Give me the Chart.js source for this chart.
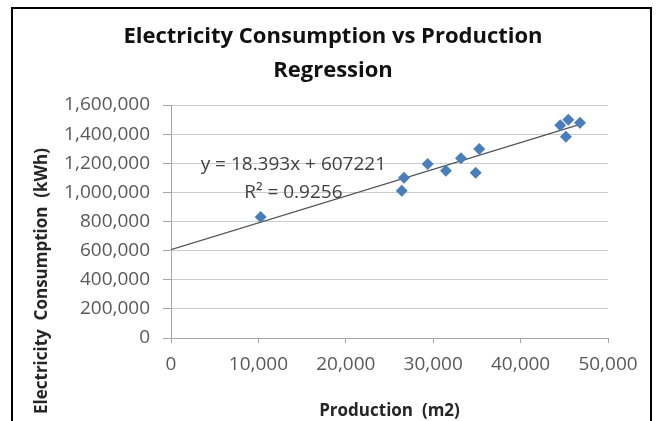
<!DOCTYPE html>
<html>
<head>
<meta charset="utf-8">
<script src="https://cdn.jsdelivr.net/npm/chart.js@4.4.0/dist/chart.umd.min.js"></script>
<style>
  html, body { margin: 0; padding: 0; background: #fff; overflow: hidden; }
  #wrap { position: absolute; left: 0; top: 0; width: 660px; height: 421px; }
</style>
</head>
<body>
<div id="wrap"><canvas id="myChart" width="660" height="421"></canvas></div>
<script>
// production (m2) vs electricity consumption (kWh)
const production = [10260, 26400, 26660, 29370, 31460, 33180, 34860, 35270, 44540, 45190, 45460, 46800];
const consumption = [831000, 1011000, 1101000, 1195000, 1149000, 1234000, 1135000, 1298000, 1461000, 1382000, 1499000, 1478000];

// trendline as shown on the chart
const slope = 18.393;
const intercept = 607221;
const rSquared = '0.9256';
const trendX = [0, 46800];

const xTicks = [0, 10000, 20000, 30000, 40000, 50000];
const yTicks = [0, 200000, 400000, 600000, 800000, 1000000, 1200000, 1400000, 1600000];

const points = production.map((x, i) => ({ x: x, y: consumption[i] }));
const trend = trendX.map(x => ({ x: x, y: slope * x + intercept }));

const FONT = "'Open Sans', sans-serif";

const extras = {
    id: 'extras',
    beforeDraw(chart) {
        const c = chart.ctx;
        c.save();
        c.fillStyle = '#fff';
        c.fillRect(0, 0, chart.width, chart.height);
        c.restore();
    },
    afterDraw(chart) {
        const c = chart.ctx;
        const xs = chart.scales.x, ys = chart.scales.y;
        c.save();
        // outer frame
        c.strokeStyle = '#000';
        c.lineWidth = 2;
        c.strokeRect(12, 8, 639, 440);

        // y axis title
        c.translate(42, 281);
        c.rotate(-Math.PI / 2);
        c.fillStyle = '#262626';
        c.font = "bold 17px " + FONT;
        c.textAlign = 'center';
        c.textBaseline = 'middle';
        c.fillText('Electricity  Consumption  (kWh)', 0, 0);
        c.restore();

        // trendline equation
        c.save();
        c.fillStyle = '#404040';
        c.font = "19px " + FONT;
        c.textAlign = 'center';
        c.textBaseline = 'middle';
        const ex = xs.getPixelForValue(14000);
        const ey = ys.getPixelForValue(1188000);
        c.fillText('y = ' + slope + 'x + ' + intercept, ex, ey);
        c.fillText('R\u00B2 = ' + rSquared, ex, ey + 28);
        c.restore();
    }
};

const ctx = document.getElementById('myChart');

new Chart(ctx, {
    type: 'scatter',
    data: {
        datasets: [
            {
                label: 'Consumption',
                data: points,
                pointStyle: 'rectRot',
                pointRadius: 6,
                pointHoverRadius: 6,
                backgroundColor: '#4A7EBB',
                borderColor: '#4A7EBB',
                borderWidth: 0,
                order: 1
            },
            {
                label: 'Trend',
                type: 'line',
                data: trend,
                borderColor: '#555555',
                borderWidth: 1.3,
                pointRadius: 0,
                fill: false,
                order: 2
            }
        ]
    },
    options: {
        responsive: false,
        animation: false,
        layout: {
            padding: { left: 58, right: 52, top: 0, bottom: 0 }
        },
        plugins: {
            legend: { display: false },
            tooltip: { enabled: false },
            title: {
                display: true,
                text: ['Electricity Consumption vs Production', 'Regression'],
                color: '#111',
                font: { family: FONT, size: 22, weight: 'bold', lineHeight: 1.57 },
                padding: { top: 19, bottom: 17 }
            }
        },
        scales: {
            x: {
                type: 'linear',
                min: 0,
                max: 50000,
                afterBuildTicks: (axis) => { axis.ticks = xTicks.map(v => ({ value: v })); },
                afterFit: (axis) => { axis.height = 83; },
                grid: {
                    drawOnChartArea: false,
                    drawTicks: true,
                    tickLength: 5,
                    color: '#a6a6a6'
                },
                border: { color: '#a6a6a6' },
                ticks: {
                    color: '#595959',
                    font: { family: FONT, size: 19 },
                    padding: 10,
                    maxRotation: 0,
                    callback: (v) => v.toLocaleString('en-US')
                },
                title: {
                    display: true,
                    text: 'Production  (m2)',
                    color: '#262626',
                    font: { family: FONT, size: 17, weight: 'bold', lineHeight: 1.2 },
                    padding: { top: 0, bottom: 0 }
                }
            },
            y: {
                min: 0,
                max: 1600000,
                afterBuildTicks: (axis) => { axis.ticks = yTicks.map(v => ({ value: v })); },
                afterFit: (axis) => { axis.width = 113; },
                grid: {
                    color: '#cccccc',
                    tickLength: 8,
                    tickColor: '#a6a6a6'
                },
                border: { color: '#a6a6a6' },
                ticks: {
                    color: '#595959',
                    font: { family: FONT, size: 19 },
                    padding: 13,
                    callback: (v) => v.toLocaleString('en-US')
                }
            }
        }
    },
    plugins: [extras]
});
</script>
</body>
</html>
